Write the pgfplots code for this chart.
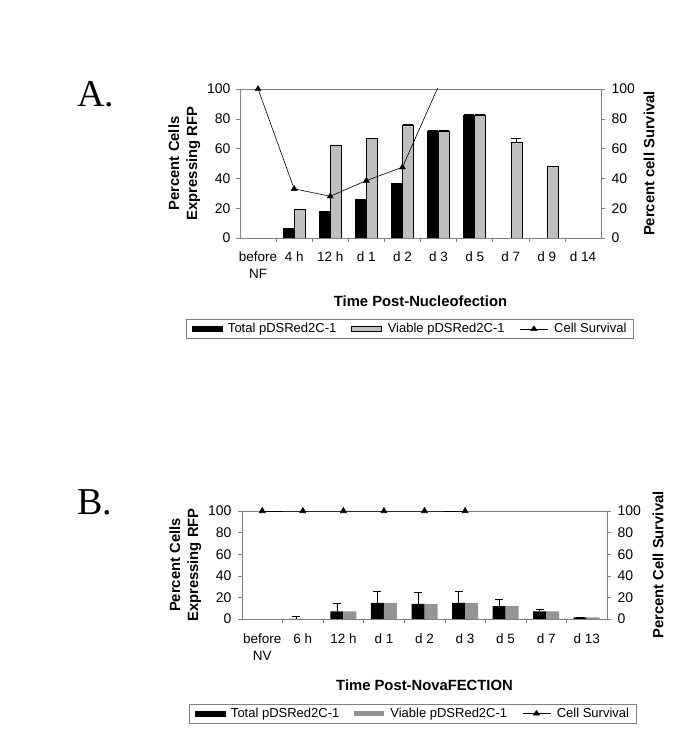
\documentclass[border=0pt]{standalone}
\usepackage{fontspec}
\setmainfont{Liberation Sans}
\newfontfamily\serifA{Liberation Serif}
\usepackage{pgfplots}
\usepackage{pgfplotstable}
\pgfplotsset{compat=1.18}

\pgfplotstableread{
x total etot viable evia
0 nan  0   nan  0
1 6.5  0   19.5 0
2 18   0   62.5 0
3 26   0   67   0
4 36.5 0   76   0.7
5 72   0.4 72   0.4
6 82.5 0.3 82.5 0.3
7 nan  0   64.5 2.5
8 nan  0   48   0
9 nan  0   nan  0
}\dataA

\pgfplotstableread{
x total etot viable
0 nan  0  nan
1 0    3  nan
2 7    8  7
3 15   11 15
4 14   11 14
5 15   11 15
6 12   6  12
7 7    2  7
8 1.5  0  1.5
}\dataB

\pgfplotsset{
  common/.style={
    scale only axis, ymin=0, ymax=100, ytick={0,20,...,100},
    axis line style={gray}, tick style={gray, line width=0.5pt},
    major tick length=4pt, minor tick length=4pt, tick align=outside,
    yticklabel style={font=\fontsize{14}{17}\selectfont},
    xticklabel style={font=\fontsize{13.5}{17.5}\selectfont},
    /pgf/number format/assume math mode=true,
    label style={font=\bfseries\fontsize{14.8}{18}\selectfont},
    unbounded coords=discard,
  },
  legA/.style={legend image code/.code={\draw[#1] (0pt,-2.5pt) rectangle (30pt,2.5pt);}},
  legL/.style={legend image code/.code={\draw[black, line width=0.6pt] (0pt,0pt) -- (28pt,0pt); \fill[black] (14pt,3.2pt) -- (10.8pt,-1.6pt) -- (17.2pt,-1.6pt) -- cycle;}},
  legS/.style={legend columns=3, draw=gray,
    font=\fontsize{13}{15}\selectfont, inner xsep=5pt, inner ysep=2pt,
    /tikz/every odd column/.append style={column sep=4pt},
    /tikz/every even column/.append style={column sep=13pt}},
}

\begin{document}
\begin{tikzpicture}
\useasboundingbox (0,0) rectangle (685pt,752pt);
\node[anchor=base west, font=\serifA\fontsize{38}{40}\selectfont, inner sep=0pt] at (77pt,645pt) {A.};
\node[anchor=base west, font=\serifA\fontsize{38}{40}\selectfont, inner sep=0pt] at (77pt,237pt) {B.};

% ---------- Panel A ----------
\begin{axis}[common, at={(240pt,514pt)}, anchor=south west, width=361pt, height=149pt,
  xmin=-0.5, xmax=9.5, xtick={0,...,9},
  xticklabels={{before\\NF},{4 h},{12 h},{d 1},{d 2},{d 3},{d 5},{d 7},{d 9},{d 14}},
  xticklabel style={align=center, yshift=-6pt},
  yticklabel style={xshift=-2pt},
  major x tick style={draw=none}, minor xtick={0.5,1.5,...,8.5},
  ytick pos=left, xtick pos=bottom,
  ybar=0pt, bar width=11pt,
  ylabel={Percent Cells\\Expressing RFP}, ylabel style={align=center},
  xlabel={Time Post-Nucleofection}, xlabel style={yshift=-10pt},
  error bars/error mark options={rotate=90, mark size=5pt, black},
]
\addplot[fill=black, draw=black, error bars/.cd, y dir=plus, y explicit] table[x=x, y=total, y error=etot]{\dataA};
\addplot[fill=black!25, draw=black, error bars/.cd, y dir=plus, y explicit] table[x=x, y=viable, y error=evia]{\dataA};
\end{axis}
\begin{axis}[common, at={(240pt,514pt)}, anchor=south west, width=361pt, height=149pt,
  xmin=-0.5, xmax=9.5, axis x line=none, axis y line*=right,
  yticklabel style={xshift=3pt},
  ylabel={Percent cell Survival}, ylabel style={yshift=-2pt},
  legend style={legS, at={(0.471,-0.611)}, anchor=center},
]
\addlegendimage{legA={fill=black, draw=black}}
\addlegendentry{Total pDSRed2C-1}
\addlegendimage{legA={fill=black!25, draw=black}}
\addlegendentry{Viable pDSRed2C-1}
\addlegendimage{legL}
\addlegendentry{Cell Survival}
\addplot[black, line width=0.6pt, no marks, forget plot] coordinates {(0,100) (1,33) (2,28) (3,38.5) (4,47.5) (5,102)};
\addplot[black, only marks, mark=triangle*, mark size=3.5pt, forget plot] coordinates {(0,100) (1,33) (2,28) (3,38.5) (4,47.5)};
\end{axis}

% ---------- Panel B ----------
\begin{axis}[common, at={(242pt,133pt)}, anchor=south west, width=365pt, height=108pt,
  xmin=-0.5, xmax=8.5, xtick={0,...,8},
  xticklabels={{before\\NV},{6 h},{12 h},{d 1},{d 2},{d 3},{d 5},{d 7},{d 13}},
  xticklabel style={align=center, yshift=-7pt},
  yticklabel style={xshift=-3pt},
  major x tick style={draw=none}, minor xtick={0.5,1.5,...,7.5},
  ytick pos=left, xtick pos=bottom,
  ybar=0pt, bar width=13pt,
  ylabel={Percent Cells\\Expressing RFP}, ylabel style={align=center},
  xlabel={Time Post-NovaFECTION}, xlabel style={yshift=-12pt},
  error bars/error mark options={rotate=90, mark size=4pt, black},
]
\addplot[fill=black, draw=none, error bars/.cd, y dir=plus, y explicit, error bar style={black}] table[x=x, y=total, y error=etot]{\dataB};
\addplot[fill=black!42, draw=none] table[x=x, y=viable]{\dataB};
\end{axis}
\begin{axis}[common, at={(242pt,133pt)}, anchor=south west, width=365pt, height=108pt,
  xmin=-0.5, xmax=8.5, axis x line=none, axis y line*=right,
  yticklabel style={xshift=3pt},
  ylabel={Percent Cell Survival}, ylabel style={yshift=-5pt},
  legend style={legS, at={(0.468,-0.875)}, anchor=center},
]
\addlegendimage{legA={fill=black, draw=black}}
\addlegendentry{Total pDSRed2C-1}
\addlegendimage{legA={fill=black!42, draw=none}}
\addlegendentry{Viable pDSRed2C-1}
\addlegendimage{legL}
\addlegendentry{Cell Survival}
\addplot[black, line width=0.6pt, mark=triangle*, mark size=3.5pt, forget plot] coordinates {(0,100) (1,100) (2,100) (3,100) (4,100) (5,100)};
\end{axis}
\end{tikzpicture}
\end{document}
